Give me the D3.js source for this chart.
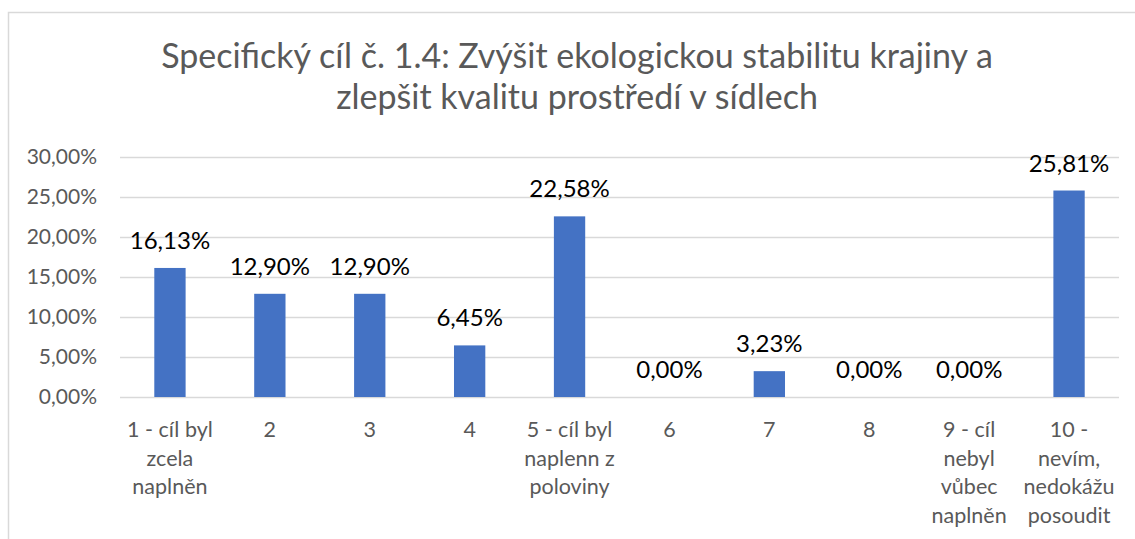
<!DOCTYPE html>
<html>
<head>
<meta charset="utf-8">
<script src="https://cdn.jsdelivr.net/npm/d3@7"></script>
<style>
  body { margin: 0; background: #fff; }
  svg text { font-family: Lato, "Noto Sans", sans-serif; }
</style>
</head>
<body>
<script>
// data
const categories = ["1", "2", "3", "4", "5", "6", "7", "8", "9", "10"];
const categoryLines = [
  ["1 - cíl byl", "zcela", "naplněn"],
  ["2"], ["3"], ["4"],
  ["5 - cíl byl", "naplenn z", "poloviny"],
  ["6"], ["7"], ["8"],
  ["9 - cíl", "nebyl", "vůbec", "naplněn"],
  ["10 -", "nevím,", "nedokážu", "posoudit"]
];
const values = [0.1613, 0.1290, 0.1290, 0.0645, 0.2258, 0.0000, 0.0323, 0.0000, 0.0000, 0.2581];
const yTicks = [0, 0.05, 0.10, 0.15, 0.20, 0.25, 0.30];
const titleLines = [
  "Specifický cíl č. 1.4: Zvýšit ekologickou stabilitu krajiny a",
  "zlepšit kvalitu prostředí v sídlech"
];

const W = 1135, H = 539;
const svg = d3.select("body").append("svg")
  .attr("width", W)
  .attr("height", H);

// chart border (only top and left are visible in the crop)
svg.append("rect")
  .attr("x", 8.5).attr("y", 12.5)
  .attr("width", W + 20).attr("height", H + 20)
  .attr("fill", "#fff")
  .attr("stroke", "#d9d9d9")
  .attr("stroke-width", 1.5);

// title
svg.append("text")
  .attr("x", 577)
  .attr("text-anchor", "middle")
  .attr("fill", "#595959")
  .style("font-size", "34px")
  .selectAll("tspan")
  .data(titleLines)
  .join("tspan")
  .attr("x", 577)
  .attr("y", (d, i) => 68 + i * 41)
  .text(d => d);

const x = d3.scaleBand()
  .domain(categories)
  .range([120, 1119])
  .padding(0);

const y = d3.scaleLinear()
  .domain([0, 0.30])
  .range([397, 157]);

const fmt = v => d3.format(".2%")(v).replace(".", ",");

// y axis with gridlines
const yAxis = svg.append("g")
  .attr("transform", "translate(120,0)")
  .call(d3.axisLeft(y)
    .tickValues(yTicks)
    .tickSize(-(1119 - 120))
    .tickPadding(23)
    .tickFormat(fmt));

yAxis.select(".domain").remove();
yAxis.selectAll(".tick line")
  .attr("stroke", "#d9d9d9")
  .attr("stroke-width", 1.5);
yAxis.selectAll(".tick text")
  .attr("fill", "#595959")
  .style("font-size", "21px");

// bars
const barW = x.bandwidth() / (1 + 2.19);
svg.append("g")
  .selectAll("rect")
  .data(values)
  .join("rect")
  .attr("x", (d, i) => x(categories[i]) + (x.bandwidth() - barW) / 2)
  .attr("y", d => y(d))
  .attr("width", barW)
  .attr("height", d => y(0) - y(d))
  .attr("fill", "#4472c4");

// data labels
svg.append("g")
  .selectAll("text")
  .data(values)
  .join("text")
  .attr("x", (d, i) => x(categories[i]) + x.bandwidth() / 2)
  .attr("y", d => y(d) - 19)
  .attr("text-anchor", "middle")
  .attr("fill", "#000")
  .style("font-size", "24px")
  .text(d => fmt(d));

// category labels
const cat = svg.append("g")
  .selectAll("text")
  .data(categoryLines)
  .join("text")
  .attr("text-anchor", "middle")
  .attr("fill", "#595959")
  .style("font-size", "21.5px");

cat.selectAll("tspan")
  .data((d, i) => d.map(t => ({ t, i })))
  .join("tspan")
  .attr("x", d => x(categories[d.i]) + x.bandwidth() / 2)
  .attr("y", (d, j) => 437 + j * 28.7)
  .text(d => d.t);
</script>
</body>
</html>
